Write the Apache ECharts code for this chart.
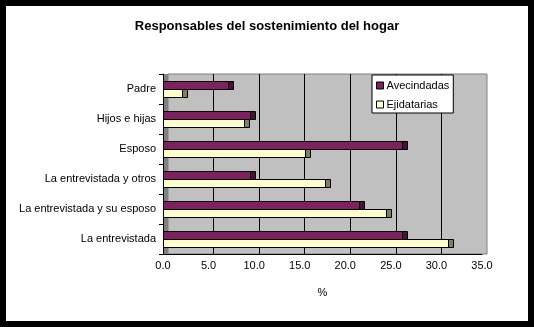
<!DOCTYPE html>
<html>
<head>
<meta charset="utf-8">
<script src="https://cdn.jsdelivr.net/npm/echarts@6/dist/echarts.min.js"></script>
<style>
html,body{margin:0;padding:0;background:#fff;}
#wrap{position:relative;width:534px;height:327px;}
#c{position:absolute;left:0;top:0;width:534px;height:327px;}
#frame{position:absolute;left:0;top:0;width:534px;height:327px;box-sizing:border-box;border:6px solid #000;pointer-events:none;}
</style>
</head>
<body>
<div id="wrap"><div id="c"></div><div id="frame"></div></div>
<script>
const title = 'Responsables del sostenimiento del hogar';
const categories = ['Padre', 'Hijos e hijas', 'Esposo', 'La entrevistada y otros', 'La entrevistada y su esposo', 'La entrevistada'];
const seriesNames = ['Avecindadas', 'Ejidatarias'];
const avecindadas = [7.1, 9.5, 26.2, 9.5, 21.5, 26.2];
const ejidatarias = [2.1, 8.9, 15.6, 17.8, 24.5, 31.3];
const xMin = 0, xMax = 35, xStep = 5;
const xAxisName = '%';

const FONT = 'Liberation Sans';
const colors = {
  avecFace: '#7F2060', avecCap: '#4C1038',
  ejidFace: '#FFFFCC', ejidCap: '#808060'
};

function barRender(upper, face, cap) {
  return function (params, api) {
    const v = api.value(0), c = api.value(1);
    const p0 = api.coord([0, c]);
    const p1 = api.coord([v, c]);
    const h = 8;
    const yc = Math.round(p0[1]);
    const y = (upper ? yc - h : yc) + 0.5;
    const x0 = Math.round(p0[0]) + 0.5;
    const x1 = Math.round(p1[0]) + 0.5;
    return {
      type: 'group',
      children: [
        { type: 'rect', shape: { x: x0, y: y, width: x1 - x0, height: h }, style: { fill: face, stroke: '#000', lineWidth: 1 } },
        { type: 'rect', shape: { x: x1, y: y, width: 5, height: h }, style: { fill: cap, stroke: '#000', lineWidth: 1 } }
      ]
    };
  };
}

const chart = echarts.init(document.getElementById('c'), null, { renderer: 'canvas' });
chart.setOption({
  backgroundColor: '#fff',
  animation: false,
  title: {
    text: title, left: 'center', top: 15,
    textStyle: { fontFamily: FONT, fontSize: 13, fontWeight: 'bold', color: '#000' }
  },
  legend: {
    data: seriesNames, orient: 'vertical', left: 372, top: 75,
    backgroundColor: '#fff', borderColor: '#000', borderWidth: 1,
    padding: [5, 4, 3, 4], itemGap: 8, itemWidth: 7, itemHeight: 7, icon: 'rect',
    itemStyle: { borderColor: '#000', borderWidth: 1 },
    textStyle: { fontFamily: FONT, fontSize: 11, color: '#000', padding: [0, 0, 0, -2] }
  },
  grid: [
    { left: 163, width: 319, top: 74, height: 180, show: true, backgroundColor: '#808080', borderWidth: 0 },
    { left: 168, width: 319, top: 74, height: 180, show: true, backgroundColor: '#C0C0C0', borderColor: '#808080', borderWidth: 1 }
  ],
  xAxis: [
    {
      gridIndex: 0, type: 'value', min: xMin, max: xMax, interval: xStep,
      name: xAxisName, nameLocation: 'middle', nameGap: 33,
      nameTextStyle: { fontFamily: FONT, fontSize: 11, color: '#000' },
      axisLine: { show: true, lineStyle: { color: '#000', width: 1 } },
      axisTick: { show: false },
      splitLine: { show: false },
      axisLabel: { fontFamily: FONT, fontSize: 11, color: '#000', margin: 6, formatter: v => v.toFixed(1) }
    },
    {
      gridIndex: 1, type: 'value', min: xMin, max: xMax, interval: xStep,
      axisLine: { show: false }, axisTick: { show: false }, axisLabel: { show: false },
      splitLine: { show: true, showMinLine: false, showMaxLine: false, lineStyle: { color: '#000', width: 1 } }
    }
  ],
  yAxis: [
    {
      gridIndex: 0, type: 'category', data: categories, inverse: true, z: 5,
      axisLine: { show: true, lineStyle: { color: '#000', width: 1 } },
      axisTick: { show: true, length: 4, lineStyle: { color: '#000' } },
      axisLabel: { fontFamily: FONT, fontSize: 11, color: '#000', margin: 7 }
    },
    {
      gridIndex: 1, type: 'category', data: categories, inverse: true,
      axisLine: { show: false }, axisTick: { show: false }, axisLabel: { show: false }, splitLine: { show: false }
    }
  ],
  series: [
    {
      name: seriesNames[0], type: 'custom', xAxisIndex: 0, yAxisIndex: 0, z: 10,
      itemStyle: { color: colors.avecFace, borderColor: '#000', borderWidth: 1 },
      encode: { x: 0, y: 1 },
      data: avecindadas.map((v, i) => [v, i]),
      renderItem: barRender(true, colors.avecFace, colors.avecCap)
    },
    {
      name: seriesNames[1], type: 'custom', xAxisIndex: 0, yAxisIndex: 0, z: 10,
      itemStyle: { color: colors.ejidFace, borderColor: '#000', borderWidth: 1 },
      encode: { x: 0, y: 1 },
      data: ejidatarias.map((v, i) => [v, i]),
      renderItem: barRender(false, colors.ejidFace, colors.ejidCap)
    }
  ]
});
</script>
</body>
</html>
